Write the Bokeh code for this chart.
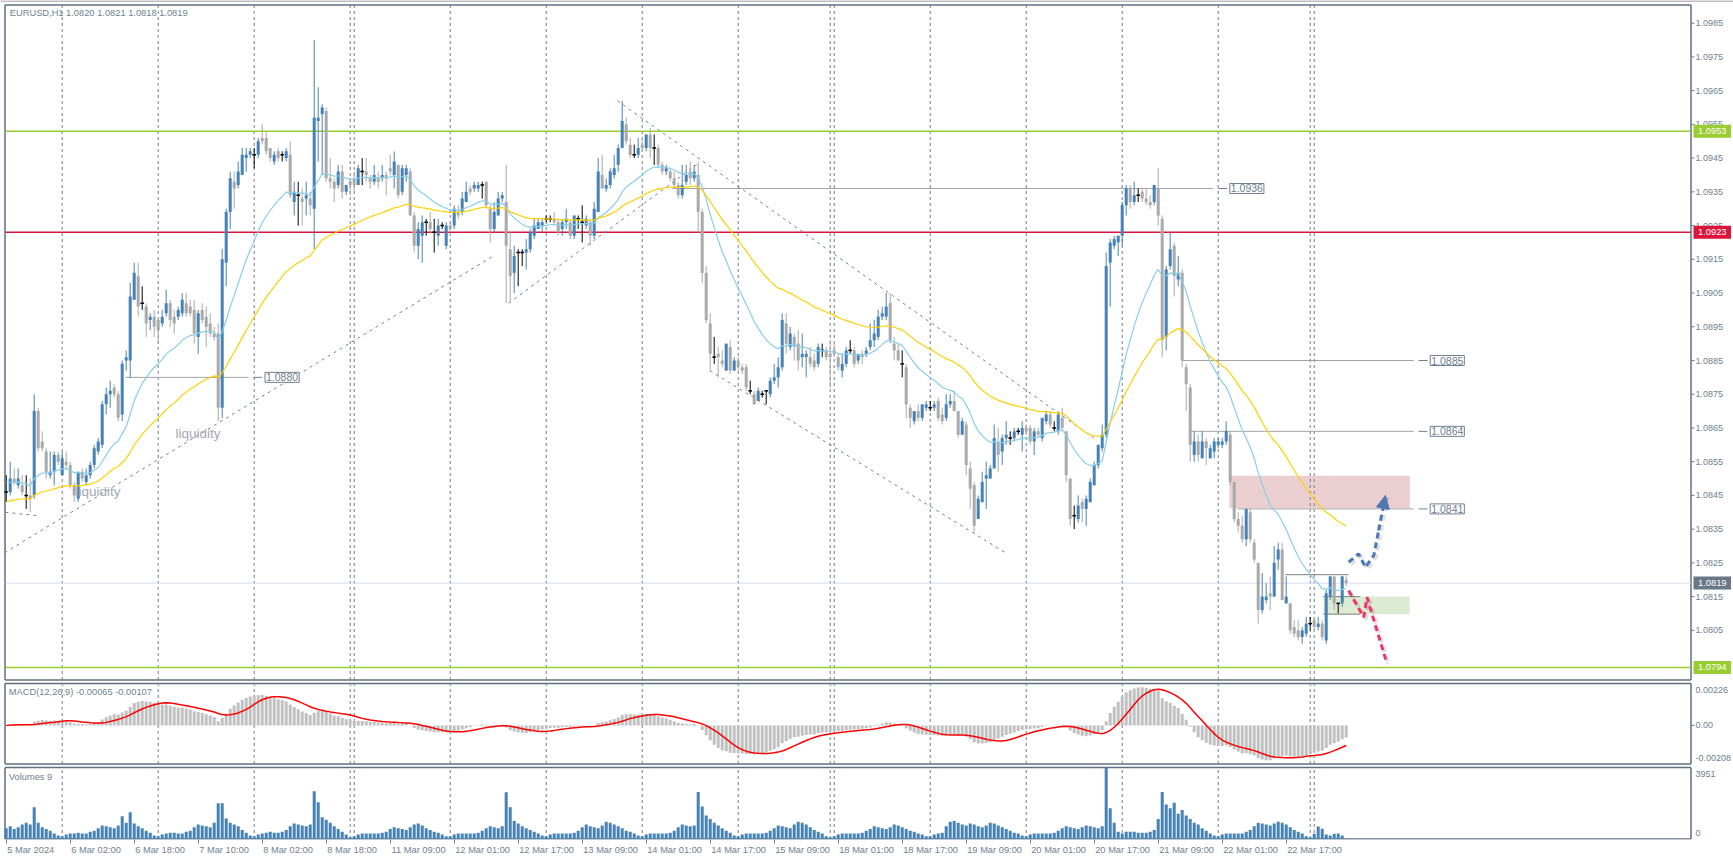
import numpy as np
from bokeh.plotting import figure
from bokeh.layouts import column
from bokeh.models import (Label, FixedTicker, Range1d, Arrow, NormalHead, BoxAnnotation,
                          ColumnDataSource, NumeralTickFormatter)
from bokeh.embed import file_html
from bokeh.resources import INLINE

# ------------------------------------------------------------------
# DATA  (EURUSD H1, 5 Mar 2024 10:00 -> 25 Mar 2024 08:00)
# ------------------------------------------------------------------
OPEN = [
 1.0846,1.0846,1.0850,1.0848,1.0848,1.0845,1.0845,1.0845,1.0870,1.0861,1.0858,1.0851,
 1.0852,1.0857,1.0851,1.0855,1.0854,1.0848,1.0844,1.0852,1.0849,1.0851,1.0854,1.0858,
 1.0860,1.0872,1.0875,1.0877,1.0875,1.0869,1.0885,1.0885,1.0903,1.0910,1.0902,1.0901,
 1.0897,1.0898,1.0897,1.0896,1.0899,1.0902,1.0898,1.0898,1.0899,1.0902,1.0901,1.0900,
 1.0892,1.0900,1.0898,1.0896,1.0893,1.0893,1.0871,1.0914,1.0929,1.0938,1.0937,1.0940,
 1.0945,1.0946,1.0946,1.0946,1.0951,1.0951,1.0948,1.0944,1.0947,1.0946,1.0945,1.0946,
 1.0932,1.0934,1.0933,1.0933,1.0933,1.0930,1.0956,1.0958,1.0959,1.0939,1.0938,1.0937,
 1.0941,1.0935,1.0938,1.0939,1.0937,1.0941,1.0941,1.0939,1.0938,1.0939,1.0939,1.0940,
 1.0942,1.0940,1.0943,1.0935,1.0940,1.0941,1.0928,1.0919,1.0922,1.0926,1.0926,1.0923,
 1.0922,1.0925,1.0919,1.0925,1.0925,1.0929,1.0929,1.0932,1.0936,1.0936,1.0936,1.0937,
 1.0938,1.0930,1.0924,1.0928,1.0933,1.0932,1.0918,1.0911,1.0917,1.0917,1.0917,1.0918,
 1.0922,1.0924,1.0925,1.0927,1.0927,1.0927,1.0926,1.0924,1.0926,1.0926,1.0922,1.0927,
 1.0926,1.0925,1.0926,1.0922,1.0929,1.0940,1.0936,1.0937,1.0940,1.0943,1.0948,1.0955,
 1.0949,1.0946,1.0946,1.0949,1.0948,1.0952,1.0948,1.0948,1.0943,1.0941,1.0941,1.0939,
 1.0937,1.0934,1.0938,1.0941,1.0939,1.0940,1.0929,1.0911,1.0896,1.0886,1.0887,1.0885,
 1.0882,1.0889,1.0882,1.0885,1.0883,1.0883,1.0876,1.0875,1.0873,1.0875,1.0876,1.0875,
 1.0879,1.0880,1.0883,1.0896,1.0889,1.0892,1.0890,1.0886,1.0886,1.0886,1.0885,1.0884,
 1.0888,1.0888,1.0887,1.0888,1.0886,1.0882,1.0884,1.0888,1.0888,1.0885,1.0887,1.0887,
 1.0889,1.0891,1.0892,1.0898,1.0898,1.0902,1.0890,1.0888,1.0884,1.0883,1.0871,1.0867,
 1.0870,1.0868,1.0871,1.0871,1.0871,1.0873,1.0869,1.0868,1.0872,1.0873,1.0870,1.0863,
 1.0866,1.0853,1.0848,1.0838,1.0843,1.0850,1.0850,1.0853,1.0861,1.0858,1.0862,1.0862,
 1.0862,1.0864,1.0863,1.0865,1.0865,1.0861,1.0864,1.0862,1.0867,1.0869,1.0865,1.0864,
 1.0868,1.0864,1.0850,1.0839,1.0838,1.0843,1.0841,1.0843,1.0848,1.0854,1.0859,1.0863,
 1.0914,1.0919,1.0920,1.0922,1.0931,1.0936,1.0932,1.0934,1.0935,1.0933,1.0932,1.0932,
 1.0936,1.0927,1.0892,1.0913,1.0919,1.0909,1.0911,1.0883,1.0877,1.0857,1.0861,1.0856,
 1.0861,1.0856,1.0858,1.0860,1.0860,1.0861,1.0863,1.0849,1.0838,1.0836,1.0832,1.0840,
 1.0831,1.0825,1.0811,1.0814,1.0816,1.0815,1.0826,1.0829,1.0813,1.0813,1.0806,1.0805,
 1.0803,1.0804,1.0807,1.0808,1.0806,1.0807,1.0802,1.0815,1.0821,1.0813,1.0813,1.0820,
]
HIGH = [
 1.0851,1.0855,1.0853,1.0853,1.0851,1.0851,1.0850,1.0875,1.0871,1.0864,1.0859,1.0858,
 1.0858,1.0858,1.0858,1.0858,1.0855,1.0849,1.0852,1.0853,1.0853,1.0855,1.0860,1.0862,
 1.0873,1.0877,1.0879,1.0878,1.0876,1.0885,1.0888,1.0908,1.0914,1.0914,1.0907,1.0902,
 1.0899,1.0900,1.0897,1.0900,1.0906,1.0903,1.0900,1.0901,1.0905,1.0905,1.0903,1.0903,
 1.0900,1.0902,1.0901,1.0899,1.0895,1.0896,1.0918,1.0930,1.0941,1.0941,1.0944,1.0948,
 1.0948,1.0948,1.0948,1.0951,1.0955,1.0953,1.0948,1.0947,1.0948,1.0947,1.0948,1.0950,
 1.0938,1.0938,1.0936,1.0938,1.0935,1.0980,1.0966,1.0961,1.0960,1.0945,1.0939,1.0943,
 1.0943,1.0937,1.0939,1.0941,1.0943,1.0945,1.0945,1.0940,1.0943,1.0941,1.0943,1.0941,
 1.0946,1.0947,1.0943,1.0943,1.0943,1.0942,1.0929,1.0926,1.0928,1.0927,1.0929,1.0927,
 1.0927,1.0926,1.0926,1.0926,1.0931,1.0931,1.0935,1.0938,1.0937,1.0938,1.0938,1.0938,
 1.0938,1.0931,1.0932,1.0935,1.0935,1.0943,1.0923,1.0919,1.0918,1.0918,1.0921,1.0924,
 1.0927,1.0927,1.0927,1.0928,1.0928,1.0929,1.0927,1.0927,1.0930,1.0927,1.0928,1.0928,
 1.0931,1.0928,1.0927,1.0932,1.0945,1.0946,1.0939,1.0942,1.0946,1.0949,1.0962,1.0957,
 1.0951,1.0949,1.0951,1.0951,1.0952,1.0954,1.0952,1.0949,1.0944,1.0943,1.0942,1.0941,
 1.0938,1.0943,1.0943,1.0944,1.0943,1.0944,1.0930,1.0913,1.0899,1.0892,1.0889,1.0888,
 1.0890,1.0891,1.0886,1.0886,1.0884,1.0884,1.0879,1.0876,1.0877,1.0876,1.0876,1.0880,
 1.0884,1.0886,1.0899,1.0899,1.0895,1.0893,1.0894,1.0893,1.0888,1.0889,1.0887,1.0890,
 1.0890,1.0889,1.0891,1.0890,1.0887,1.0887,1.0889,1.0891,1.0889,1.0887,1.0888,1.0889,
 1.0896,1.0897,1.0900,1.0901,1.0905,1.0905,1.0892,1.0890,1.0888,1.0884,1.0872,1.0870,
 1.0872,1.0872,1.0873,1.0873,1.0873,1.0874,1.0871,1.0875,1.0875,1.0876,1.0870,1.0868,
 1.0867,1.0855,1.0849,1.0845,1.0852,1.0855,1.0854,1.0866,1.0865,1.0863,1.0867,1.0864,
 1.0865,1.0865,1.0867,1.0866,1.0866,1.0865,1.0865,1.0868,1.0870,1.0870,1.0867,1.0870,
 1.0871,1.0864,1.0850,1.0842,1.0845,1.0844,1.0845,1.0850,1.0855,1.0860,1.0866,1.0917,
 1.0921,1.0922,1.0922,1.0932,1.0937,1.0937,1.0938,1.0936,1.0936,1.0936,1.0934,1.0937,
 1.0942,1.0928,1.0913,1.0923,1.0920,1.0916,1.0912,1.0884,1.0878,1.0864,1.0863,1.0864,
 1.0862,1.0860,1.0862,1.0862,1.0862,1.0867,1.0864,1.0849,1.0840,1.0839,1.0841,1.0841,
 1.0832,1.0825,1.0822,1.0819,1.0821,1.0830,1.0831,1.0831,1.0821,1.0813,1.0808,1.0808,
 1.0806,1.0809,1.0809,1.0809,1.0809,1.0808,1.0817,1.0821,1.0821,1.0813,1.0821,1.0821,
]
LOW = [
 1.0843,1.0845,1.0848,1.0847,1.0845,1.0841,1.0840,1.0844,1.0858,1.0858,1.0850,1.0850,
 1.0848,1.0854,1.0851,1.0853,1.0847,1.0843,1.0843,1.0849,1.0848,1.0850,1.0853,1.0857,
 1.0859,1.0869,1.0871,1.0874,1.0867,1.0867,1.0882,1.0880,1.0903,1.0898,1.0900,1.0892,
 1.0894,1.0892,1.0890,1.0895,1.0898,1.0895,1.0893,1.0897,1.0898,1.0898,1.0898,1.0890,
 1.0887,1.0896,1.0889,1.0892,1.0891,1.0867,1.0868,1.0907,1.0924,1.0930,1.0936,1.0940,
 1.0941,1.0945,1.0942,1.0945,1.0949,1.0946,1.0944,1.0943,1.0944,1.0944,1.0944,1.0933,
 1.0928,1.0925,1.0925,1.0928,1.0928,1.0918,1.0944,1.0940,1.0938,1.0936,1.0932,1.0936,
 1.0933,1.0934,1.0934,1.0935,1.0937,1.0937,1.0938,1.0936,1.0937,1.0936,1.0938,1.0934,
 1.0940,1.0936,1.0933,1.0934,1.0938,1.0928,1.0917,1.0915,1.0914,1.0922,1.0923,1.0917,
 1.0919,1.0924,1.0918,1.0923,1.0924,1.0927,1.0928,1.0932,1.0934,1.0935,1.0935,1.0933,
 1.0930,1.0920,1.0923,1.0928,1.0932,1.0902,1.0902,1.0905,1.0907,1.0913,1.0912,1.0917,
 1.0921,1.0924,1.0923,1.0926,1.0926,1.0925,1.0922,1.0922,1.0924,1.0921,1.0921,1.0924,
 1.0920,1.0924,1.0919,1.0921,1.0929,1.0936,1.0935,1.0936,1.0939,1.0941,1.0948,1.0949,
 1.0945,1.0945,1.0945,1.0947,1.0947,1.0945,1.0943,1.0942,1.0940,1.0940,1.0938,1.0936,
 1.0933,1.0933,1.0937,1.0937,1.0938,1.0923,1.0908,1.0896,1.0882,1.0884,1.0880,1.0883,
 1.0882,1.0881,1.0882,1.0882,1.0881,1.0876,1.0875,1.0872,1.0873,1.0874,1.0872,1.0874,
 1.0878,1.0877,1.0882,1.0887,1.0888,1.0885,1.0882,1.0883,1.0880,1.0883,1.0882,1.0883,
 1.0886,1.0885,1.0877,1.0886,1.0882,1.0880,1.0883,1.0887,1.0883,1.0884,1.0884,1.0886,
 1.0888,1.0889,1.0891,1.0897,1.0897,1.0890,1.0885,1.0885,1.0880,1.0868,1.0865,1.0866,
 1.0867,1.0867,1.0870,1.0870,1.0870,1.0867,1.0866,1.0867,1.0871,1.0870,1.0862,1.0863,
 1.0851,1.0841,1.0834,1.0838,1.0843,1.0841,1.0850,1.0853,1.0852,1.0854,1.0860,1.0860,
 1.0861,1.0863,1.0858,1.0863,1.0860,1.0857,1.0862,1.0861,1.0866,1.0865,1.0864,1.0863,
 1.0864,1.0849,1.0836,1.0835,1.0837,1.0837,1.0836,1.0843,1.0848,1.0853,1.0858,1.0862,
 1.0901,1.0918,1.0916,1.0919,1.0928,1.0930,1.0931,1.0932,1.0932,1.0931,1.0930,1.0931,
 1.0925,1.0886,1.0888,1.0912,1.0904,1.0907,1.0883,1.0870,1.0855,1.0855,1.0855,1.0856,
 1.0854,1.0856,1.0856,1.0859,1.0859,1.0860,1.0848,1.0837,1.0834,1.0831,1.0830,1.0831,
 1.0825,1.0807,1.0810,1.0813,1.0811,1.0815,1.0823,1.0814,1.0813,1.0804,1.0803,1.0802,
 1.0801,1.0803,1.0805,1.0805,1.0805,1.0802,1.0801,1.0814,1.0811,1.0810,1.0812,1.0818,
]
CLOSE = [
 1.0846,1.0850,1.0849,1.0850,1.0846,1.0845,1.0844,1.0870,1.0859,1.0859,1.0852,1.0852,
 1.0857,1.0855,1.0856,1.0854,1.0848,1.0845,1.0852,1.0850,1.0851,1.0854,1.0859,1.0861,
 1.0872,1.0875,1.0876,1.0875,1.0868,1.0884,1.0886,1.0904,1.0911,1.0901,1.0902,1.0896,
 1.0898,1.0895,1.0894,1.0898,1.0902,1.0897,1.0896,1.0900,1.0903,1.0899,1.0899,1.0893,
 1.0899,1.0897,1.0895,1.0893,1.0892,1.0871,1.0915,1.0929,1.0939,1.0936,1.0941,1.0946,
 1.0946,1.0947,1.0946,1.0950,1.0950,1.0947,1.0945,1.0946,1.0945,1.0946,1.0947,1.0934,
 1.0935,1.0934,1.0932,1.0934,1.0931,1.0957,1.0957,1.0960,1.0939,1.0938,1.0936,1.0941,
 1.0935,1.0937,1.0937,1.0937,1.0942,1.0941,1.0940,1.0938,1.0940,1.0938,1.0940,1.0939,
 1.0941,1.0944,1.0934,1.0942,1.0942,1.0928,1.0919,1.0924,1.0926,1.0926,1.0924,1.0923,
 1.0925,1.0925,1.0925,1.0924,1.0930,1.0928,1.0933,1.0935,1.0935,1.0937,1.0937,1.0937,
 1.0931,1.0924,1.0929,1.0933,1.0934,1.0919,1.0910,1.0916,1.0917,1.0917,1.0918,1.0923,
 1.0925,1.0926,1.0926,1.0927,1.0927,1.0926,1.0923,1.0926,1.0927,1.0922,1.0928,1.0927,
 1.0926,1.0927,1.0922,1.0930,1.0941,1.0936,1.0937,1.0941,1.0942,1.0948,1.0956,1.0950,
 1.0946,1.0946,1.0948,1.0948,1.0952,1.0948,1.0948,1.0943,1.0941,1.0942,1.0939,1.0937,
 1.0934,1.0937,1.0940,1.0939,1.0941,1.0929,1.0911,1.0897,1.0887,1.0886,1.0886,1.0884,
 1.0890,1.0882,1.0885,1.0883,1.0882,1.0877,1.0876,1.0872,1.0876,1.0875,1.0876,1.0879,
 1.0880,1.0883,1.0897,1.0890,1.0893,1.0889,1.0885,1.0887,1.0887,1.0884,1.0883,1.0889,
 1.0888,1.0886,1.0886,1.0887,1.0883,1.0884,1.0888,1.0888,1.0884,1.0887,1.0886,1.0888,
 1.0891,1.0893,1.0898,1.0899,1.0901,1.0891,1.0888,1.0885,1.0884,1.0872,1.0868,1.0870,
 1.0868,1.0872,1.0872,1.0871,1.0872,1.0868,1.0867,1.0872,1.0873,1.0870,1.0863,1.0867,
 1.0854,1.0847,1.0836,1.0844,1.0849,1.0851,1.0853,1.0862,1.0857,1.0862,1.0863,1.0862,
 1.0864,1.0864,1.0865,1.0864,1.0861,1.0864,1.0863,1.0868,1.0869,1.0866,1.0865,1.0869,
 1.0865,1.0851,1.0838,1.0839,1.0842,1.0841,1.0844,1.0849,1.0854,1.0860,1.0863,1.0913,
 1.0920,1.0921,1.0922,1.0931,1.0936,1.0932,1.0934,1.0934,1.0933,1.0932,1.0931,1.0937,
 1.0928,1.0891,1.0912,1.0918,1.0910,1.0911,1.0885,1.0878,1.0860,1.0861,1.0857,1.0861,
 1.0859,1.0859,1.0861,1.0861,1.0861,1.0864,1.0849,1.0838,1.0836,1.0832,1.0841,1.0832,
 1.0826,1.0811,1.0815,1.0815,1.0815,1.0825,1.0829,1.0814,1.0815,1.0805,1.0804,1.0803,
 1.0805,1.0807,1.0807,1.0806,1.0807,1.0803,1.0816,1.0821,1.0813,1.0813,1.0821,1.0819,
]
VOLUME = [
 # 5 Mar 10:00-23:00
 600, 700, 550, 650, 800, 900, 800, 1757, 900, 650, 550, 450, 300, 200,
 # 6 Mar
 150, 250, 300, 300, 350, 300, 300, 400, 450, 600, 750, 700, 650, 600, 750, 1260,
 900, 1481, 850, 700, 600, 450, 350, 200,
 # 7 Mar
 150, 250, 300, 350, 350, 300, 300, 400, 450, 650, 800, 750, 700, 650, 900, 1978,
 1978, 1133, 900, 800, 700, 500, 350, 200,
 # 8 Mar
 150, 250, 300, 350, 400, 350, 350, 400, 500, 700, 850, 800, 750, 700, 800, 2641,
 2034, 1205, 1061, 900, 700, 550, 400, 250,
 # 10 Mar 23:00
 100,
 # 11 Mar
 150, 250, 300, 300, 300, 300, 300, 350, 400, 550, 650, 600, 550, 500, 650, 800,
 850, 750, 600, 500, 400, 350, 250, 150,
 # 12 Mar
 150, 250, 300, 300, 300, 300, 300, 350, 450, 600, 700, 650, 600, 700, 2586, 1757,
 1000, 850, 700, 600, 500, 400, 300, 200,
 # 13 Mar
 150, 250, 300, 300, 300, 300, 300, 350, 450, 650, 800, 700, 650, 600, 750, 950,
 900, 800, 700, 600, 450, 400, 300, 200,
 # 14 Mar
 150, 250, 300, 300, 300, 300, 300, 350, 450, 650, 800, 750, 700, 750, 2600, 1800,
 1300, 1100, 900, 750, 600, 450, 350, 200,
 # 15 Mar (00:00-22:00)
 150, 250, 300, 300, 300, 300, 300, 350, 450, 600, 750, 700, 650, 600, 800, 950,
 900, 800, 650, 500, 400, 300, 150,
 # 17 Mar 23:00
 100,
 # 18 Mar
 150, 250, 300, 300, 300, 300, 300, 350, 450, 550, 700, 650, 600, 550, 650, 800,
 750, 650, 550, 450, 400, 300, 250, 150,
 # 19 Mar
 150, 250, 300, 350, 700, 950, 1000, 900, 800, 750, 850, 800, 700, 650, 750, 900,
 850, 750, 650, 550, 450, 350, 300, 200,
 # 20 Mar
 150, 250, 300, 300, 300, 300, 300, 350, 450, 600, 700, 650, 600, 550, 650, 750,
 700, 650, 600, 700, 3951, 1700, 900, 400,
 # 21 Mar
 300, 400, 400, 400, 350, 350, 350, 400, 500, 1100, 2600, 1900, 1700, 2000, 1400, 1600,
 1300, 1100, 900, 800, 600, 450, 300, 200,
 # 22 Mar (00:00-22:00)
 150, 250, 300, 300, 300, 300, 300, 400, 500, 700, 900, 850, 800, 750, 850, 950,
 900, 800, 650, 500, 400, 300, 150,
 # 24 Mar 23:00
 100,
 # 25 Mar 00:00-08:00
 290, 690, 560, 250, 190, 290, 300, 200, 9,
]
assert len(OPEN) == len(HIGH) == len(LOW) == len(CLOSE) == len(VOLUME) == 336

TIME_TICKS = [0, 16, 32, 48, 64, 80, 96, 112, 128, 144, 160, 176, 192, 208, 224,
              240, 256, 272, 288, 304, 320]
TIME_LABELS = ["5 Mar 2024", "6 Mar 02:00", "6 Mar 18:00", "7 Mar 10:00", "8 Mar 02:00",
               "8 Mar 18:00", "11 Mar 09:00", "12 Mar 01:00", "12 Mar 17:00", "13 Mar 09:00",
               "14 Mar 01:00", "14 Mar 17:00", "15 Mar 09:00", "18 Mar 01:00", "18 Mar 17:00",
               "19 Mar 09:00", "20 Mar 01:00", "20 Mar 17:00", "21 Mar 09:00", "22 Mar 01:00",
               "22 Mar 17:00"]
DAY_SEPARATORS = [14, 38, 62, 86, 87, 111, 135, 159, 183, 206, 207, 231, 255, 279, 303, 326, 327]
PRICE_TICKS = [1.0805, 1.0815, 1.0825, 1.0835, 1.0845, 1.0855, 1.0865, 1.0875, 1.0885, 1.0895,
               1.0905, 1.0915, 1.0925, 1.0935, 1.0945, 1.0955, 1.0965, 1.0975, 1.0985]
MACD_MAX, MACD_MIN = 0.00226, -0.00208          # indicator window max / min
VOLUME_MAX = 3951
MACD_TITLE = "MACD(12,26,9) -0.00065 -0.00107"
VOLUME_TITLE = "Volumes 9"
CHART_TITLE = "EURUSD,H1  1.0820 1.0821 1.0818 1.0819"

LEVELS = [1.0953, 1.0923, 1.0794]
LEVEL_COLORS = ["#9ACD32", "#DC143C", "#9ACD32"]
BID = 1.0819
TAG_PRICES = [1.0953, 1.0923, 1.0819, 1.0794]
TAG_COLORS = ["#9ACD32", "#DC143C", "#6A7787", "#9ACD32"]

MA_FAST_PERIOD, MA_FAST_SEED = 20, 1.0849
MA_SLOW_PERIOD, MA_SLOW_SEED = 50, 1.0843

# drawn objects (x in bar index, y in price)
TREND_X0 = [-0.4, -0.2, 125.6, 152.8, 175.9]
TREND_Y0 = [1.0828, 1.0840, 1.0902, 1.0962, 1.0882]
TREND_X1 = [121.8, 7.8, 172.6, 271.9, 249.8]
TREND_Y1 = [1.0916, 1.0839, 1.0943, 1.0862, 1.0828]

PRICE_LINE_VALUES = [1.0880, 1.0936, 1.0885, 1.0864, 1.0841]
PRICE_LINE_START = [29.8, 166.5, 294.1, 296.1, 307.8]
PRICE_LINE_END = [60.6, 301.8, 351.9, 351.9, 351.9]

RED_ZONE = (305.8, 350.9, 1.08412, 1.08508)
GREEN_ZONE = (329.3, 350.9, 1.08098, 1.08150)
BOX_LINES_Y = [1.08215, 1.08150, 1.08098]
BOX_LINES_X0 = [319.8, 329.3, 329.3]
BOX_LINES_X1 = [335.6, 338.5, 338.5]

BLUE_PATH_X = [335.6, 338.1, 339.8, 341.9, 343.1, 344.8]
BLUE_PATH_Y = [1.08252, 1.08277, 1.08237, 1.08272, 1.08346, 1.08450]
PINK_PATH_X = [335.6, 339.4, 340.2, 345.2]
PINK_PATH_Y = [1.08168, 1.08089, 1.08148, 1.07951]

LIQ_X = [17.3, 42.3]
LIQ_Y = [1.08463, 1.08634]

# ------------------------------------------------------------------
# layout constants (pixels of the 1733 x 862 page)
# ------------------------------------------------------------------
BULL, BEAR, DOJI = "#4682B4", "#A9A9A9", "#000000"
AXC = "#6F7F90"
FRAME = "#5F6F80"
SEP = "#707F8F"
FONT = "Liberation Sans"
PAGE_W = 1733
PXB = 4.0                         # pixels per bar
BAR0_PX = 5.7                     # pixel of bar 0
AX_PX = 1690.5                    # right border of the panels (price axis)
LABEL_PX = 1695                   # left edge of axis labels
X_AT_0 = -BAR0_PX / PXB
XR = Range1d(X_AT_0, X_AT_0 + PAGE_W / PXB)


def xd(px):
    return X_AT_0 + px / PXB


# main panel: 0..681 px, price 1.0985 at 22.7 px, 33730 px per unit
MAIN_FH = 681
PPU = 33730.0


def price_at(py):
    return 1.0985 - (py - 22.7) / PPU


# MACD panel: 681..765 px; window max at 683 px, min at 763.5 px
MACD_TOP = 681
MACD_FH = 84
MPU = (763.5 - 683.0) / (MACD_MAX - MACD_MIN)


def macd_at(py):
    return MACD_MAX - (py - 683.0) / MPU


# volume panel: 765..839 px; 0 at 838.5 px, max at 767 px
VOL_TOP = 765
VOL_FH = 74
VPU = (838.5 - 767.0) / VOLUME_MAX


def vol_at(py):
    return (838.5 - py) / VPU


CHAR_W = {"0": .556, "1": .556, "2": .556, "3": .556, "4": .556, "5": .556, "6": .556,
          "7": .556, "8": .556, "9": .556, " ": .278, ":": .278, "M": .833, "a": .556,
          "r": .333}


def text_w(s, size):
    return sum(CHAR_W.get(ch, .556) for ch in s) * size


o = np.array(OPEN); h = np.array(HIGH); l = np.array(LOW); c = np.array(CLOSE)
n = len(o)
idx = np.arange(n)


def ema(values, period, seed):
    k = 2.0 / (period + 1)
    e = seed
    out = []
    for v in values:
        e = e + k * (v - e)
        out.append(e)
    return np.array(out)


def make_fig(fh, yr, x_axis=None, bottom=0):
    f = figure(frame_width=PAGE_W, frame_height=fh, x_range=XR, y_range=yr,
               output_backend="svg", toolbar_location=None, x_axis_location=x_axis,
               y_axis_location="right", min_border_left=0, min_border_right=0,
               min_border_top=0, min_border_bottom=bottom,
               background_fill_color="white", border_fill_color="white")
    f.grid.grid_line_color = None
    f.outline_line_color = None
    return f


def right_axis(f, ticks, size="9px"):
    f.yaxis.ticker = FixedTicker(ticks=ticks)
    ax = f.yaxis[0]
    ax.axis_line_color = None
    ax.major_tick_line_color = None
    ax.minor_tick_line_color = None
    ax.major_tick_in = 0
    ax.major_tick_out = 0
    ax.major_label_standoff = -(PAGE_W - LABEL_PX)
    ax.major_label_text_color = AXC
    ax.major_label_text_font = FONT
    ax.major_label_text_font_size = size
    return ax


def panel(f, y_top, y_bot):
    x0, x1 = xd(4.5), xd(AX_PX)
    f.segment(x0=[x0, x0, x0, x1], y0=[y_top, y_bot, y_bot, y_bot],
              x1=[x1, x1, x0, x1], y1=[y_top, y_bot, y_top, y_top],
              line_color=FRAME, line_width=1.5)
    f.segment(x0=DAY_SEPARATORS, y0=[y_bot] * len(DAY_SEPARATORS),
              x1=DAY_SEPARATORS, y1=[y_top] * len(DAY_SEPARATORS),
              line_color=SEP, line_dash="3 3", line_width=1)


# ------------------------------------------------------------------
# main price panel
# ------------------------------------------------------------------
p = make_fig(MAIN_FH, Range1d(price_at(MAIN_FH), price_at(0)))
p.segment(x0=[xd(0)], y0=[price_at(0.5)], x1=[xd(PAGE_W)], y1=[price_at(0.5)],
          line_color="#A8A8A8", line_width=1.5)

p.quad(left=[RED_ZONE[0]], right=[RED_ZONE[1]], bottom=[RED_ZONE[2]], top=[RED_ZONE[3]],
       fill_color="#EBCFD0", line_color=None)
p.quad(left=[GREEN_ZONE[0]], right=[GREEN_ZONE[1]], bottom=[GREEN_ZONE[2]], top=[GREEN_ZONE[3]],
       fill_color="#DDEBD3", line_color=None)
panel(p, price_at(4.5), price_at(679.5))

p.segment(x0=[xd(5)] * len(LEVELS), y0=LEVELS, x1=[xd(AX_PX)] * len(LEVELS), y1=LEVELS,
          line_color=LEVEL_COLORS, line_width=1.5)
p.segment(x0=[xd(5)], y0=[BID], x1=[xd(AX_PX)], y1=[BID], line_color="#DCDCF0", line_width=1)

# axis tick marks
p.segment(x0=[xd(AX_PX)] * len(PRICE_TICKS), y0=PRICE_TICKS,
          x1=[xd(AX_PX + 3.5)] * len(PRICE_TICKS), y1=PRICE_TICKS,
          line_color=AXC, line_width=1)

p.segment(x0=TREND_X0, y0=TREND_Y0, x1=TREND_X1, y1=TREND_Y1, line_color="#76828F",
          line_dash="3 4", line_width=1)

for val, xs, xe in zip(PRICE_LINE_VALUES, PRICE_LINE_START, PRICE_LINE_END):
    p.segment(x0=[xs], y0=[val], x1=[xe], y1=[val], line_color="#A4A4A4", line_width=1)
    p.segment(x0=[xe + 1.2], y0=[val], x1=[xe + 3.4], y1=[val], line_color=AXC, line_width=1)
    p.add_layout(Label(x=xe + 4.1, y=val, text=f"{val:.4f}", text_align="left",
                       text_baseline="middle", text_font=FONT, text_font_size="10.5px",
                       text_color=AXC, background_fill_color="white",
                       border_line_color=AXC, border_line_width=1, padding=1))

p.segment(x0=BOX_LINES_X0, y0=BOX_LINES_Y, x1=BOX_LINES_X1, y1=BOX_LINES_Y,
          line_color="#808080", line_width=1)

# candles
colors = np.where(c > o, BULL, np.where(c < o, BEAR, DOJI))
src = ColumnDataSource(dict(x=idx, hi=np.maximum(h, np.maximum(o, c)),
                            lo=np.minimum(l, np.minimum(o, c)), col=colors))
p.segment(x0="x", y0="lo", x1="x", y1="hi", line_color="col", line_width=1, source=src)
nd = c != o
src_b = ColumnDataSource(dict(x=idx[nd], top=np.maximum(o, c)[nd], bot=np.minimum(o, c)[nd],
                              col=colors[nd]))
p.vbar(x="x", width=0.75, top="top", bottom="bot", fill_color="col", line_color=None,
       source=src_b)
dj = ~nd
p.segment(x0=idx[dj] - 0.45, y0=o[dj], x1=idx[dj] + 0.45, y1=o[dj], line_color=DOJI,
          line_width=1.5)

# moving averages
p.line(idx, ema(c, MA_FAST_PERIOD, MA_FAST_SEED), line_color="#87CEEB", line_width=1.2)
p.line(idx, ema(c, MA_SLOW_PERIOD, MA_SLOW_SEED), line_color="#FFD000", line_width=1.2)

# projected paths
dx_sh, dy_sh = 0.5, -2.0 / PPU
p.line([x + dx_sh for x in BLUE_PATH_X], [y + dy_sh for y in BLUE_PATH_Y],
       line_color="#000000", line_alpha=0.12, line_width=4, line_dash="6 4")
p.line(BLUE_PATH_X[:-1], BLUE_PATH_Y[:-1], line_color="#4C79B0", line_width=3,
       line_dash="6 4")
p.add_layout(Arrow(end=NormalHead(size=13, fill_color="#4C79B0", line_color="#4C79B0"),
                   x_start=BLUE_PATH_X[-2], y_start=BLUE_PATH_Y[-2],
                   x_end=BLUE_PATH_X[-1], y_end=BLUE_PATH_Y[-1],
                   line_color="#4C79B0", line_width=3, line_dash="6 4"))
p.line([x + dx_sh for x in PINK_PATH_X], [y + dy_sh for y in PINK_PATH_Y],
       line_color="#000000", line_alpha=0.12, line_width=4, line_dash="6 4")
p.line(PINK_PATH_X, PINK_PATH_Y, line_color="#F0336B", line_width=3, line_dash="6 4")

for lx, ly in zip(LIQ_X, LIQ_Y):
    p.add_layout(Label(x=lx, y=ly, text="liquidity", text_align="left", text_baseline="middle",
                       text_font=FONT, text_font_size="13.5px", text_color="#A2A9B2"))

p.add_layout(Label(x=xd(9.3), y=price_at(12.7), text=CHART_TITLE, text_align="left",
                   text_baseline="middle", text_font=FONT, text_font_size="9.3px",
                   text_color=AXC))

p.yaxis.formatter = NumeralTickFormatter(format="0.0000")
right_axis(p, PRICE_TICKS)

# price tags drawn over the axis labels
for tp, tc in zip(TAG_PRICES, TAG_COLORS):
    p.add_layout(BoxAnnotation(left=xd(1693), right=xd(1730.5),
                               bottom=tp - 6.5 / PPU, top=tp + 6.5 / PPU,
                               fill_color=tc, fill_alpha=1.0, line_color=None))
    p.add_layout(Label(x=xd(1711.8), y=tp, text=f"{tp:.4f}", text_align="center",
                       text_baseline="middle", text_font=FONT, text_font_size="9.3px",
                       text_color="white"))

# ------------------------------------------------------------------
# MACD panel
# ------------------------------------------------------------------
pm = make_fig(MACD_FH, Range1d(macd_at(MACD_TOP + MACD_FH), macd_at(MACD_TOP)))
panel(pm, macd_at(683.0), macd_at(763.5))
e12 = ema(c, 12, c[0])
e26 = ema(c, 26, c[0])
macd = e12 - e26
signal = np.array([macd[max(0, i - 8):i + 1].mean() for i in range(n)])
pm.vbar(x=idx, width=0.75, top=np.maximum(macd, 0), bottom=np.minimum(macd, 0),
        fill_color="#C0C0C0", line_color=None)
pm.line(idx, signal, line_color="#FF0000", line_width=1.5)
pm.segment(x0=[xd(AX_PX)], y0=[0.0], x1=[xd(AX_PX + 3.5)], y1=[0.0], line_color=AXC,
           line_width=1)
mt = [round(macd_at(689.0), 7), 0.0, round(macd_at(757.7), 7)]
right_axis(pm, mt)
pm.yaxis.major_label_overrides = {mt[0]: f"{MACD_MAX:.5f}", mt[1]: "0.00",
                                  mt[2]: f"{MACD_MIN:.5f}"}
pm.add_layout(Label(x=xd(8.3), y=macd_at(691.7), text=MACD_TITLE, text_align="left",
                    text_baseline="middle", text_font=FONT, text_font_size="9.3px",
                    text_color=AXC))

# ------------------------------------------------------------------
# Volume panel
# ------------------------------------------------------------------
pv = make_fig(VOL_FH, Range1d(vol_at(VOL_TOP + VOL_FH), vol_at(VOL_TOP)), x_axis="below",
              bottom=23)
panel(pv, vol_at(767.0), vol_at(838.5))
pv.vbar(x=idx, width=0.75, top=VOLUME, bottom=0, fill_color=BULL, line_color=None)
vt = [round(vol_at(832.7), 3), round(vol_at(774.0), 3)]
right_axis(pv, vt)
pv.yaxis.major_label_overrides = {vt[0]: "0", vt[1]: str(VOLUME_MAX)}
pv.add_layout(Label(x=xd(8.3), y=vol_at(776.0), text=VOLUME_TITLE, text_align="left",
                    text_baseline="middle", text_font=FONT, text_font_size="9.3px",
                    text_color=AXC))

# time axis: tick marks at the bars, labels starting just right of each tick
label_pos = [round(t + (1.0 + text_w(s, 9.3) / 2.0) / PXB, 4)
             for t, s in zip(TIME_TICKS, TIME_LABELS)]
xa = pv.xaxis[0]
xa.ticker = FixedTicker(ticks=label_pos, minor_ticks=TIME_TICKS)
xa.major_label_overrides = {pos: s for pos, s in zip(label_pos, TIME_LABELS)}
xa.axis_line_color = None
xa.major_tick_line_color = None
xa.major_tick_in = 0
xa.major_tick_out = 4
xa.minor_tick_in = 0
xa.minor_tick_out = 4
xa.minor_tick_line_color = AXC
xa.major_label_standoff = 1
xa.major_label_text_color = AXC
xa.major_label_text_font = FONT
xa.major_label_text_font_size = "9.3px"

layout = column(p, pm, pv, spacing=0)
open("out.html", "w").write(file_html(layout, INLINE, "EURUSD,H1"))
